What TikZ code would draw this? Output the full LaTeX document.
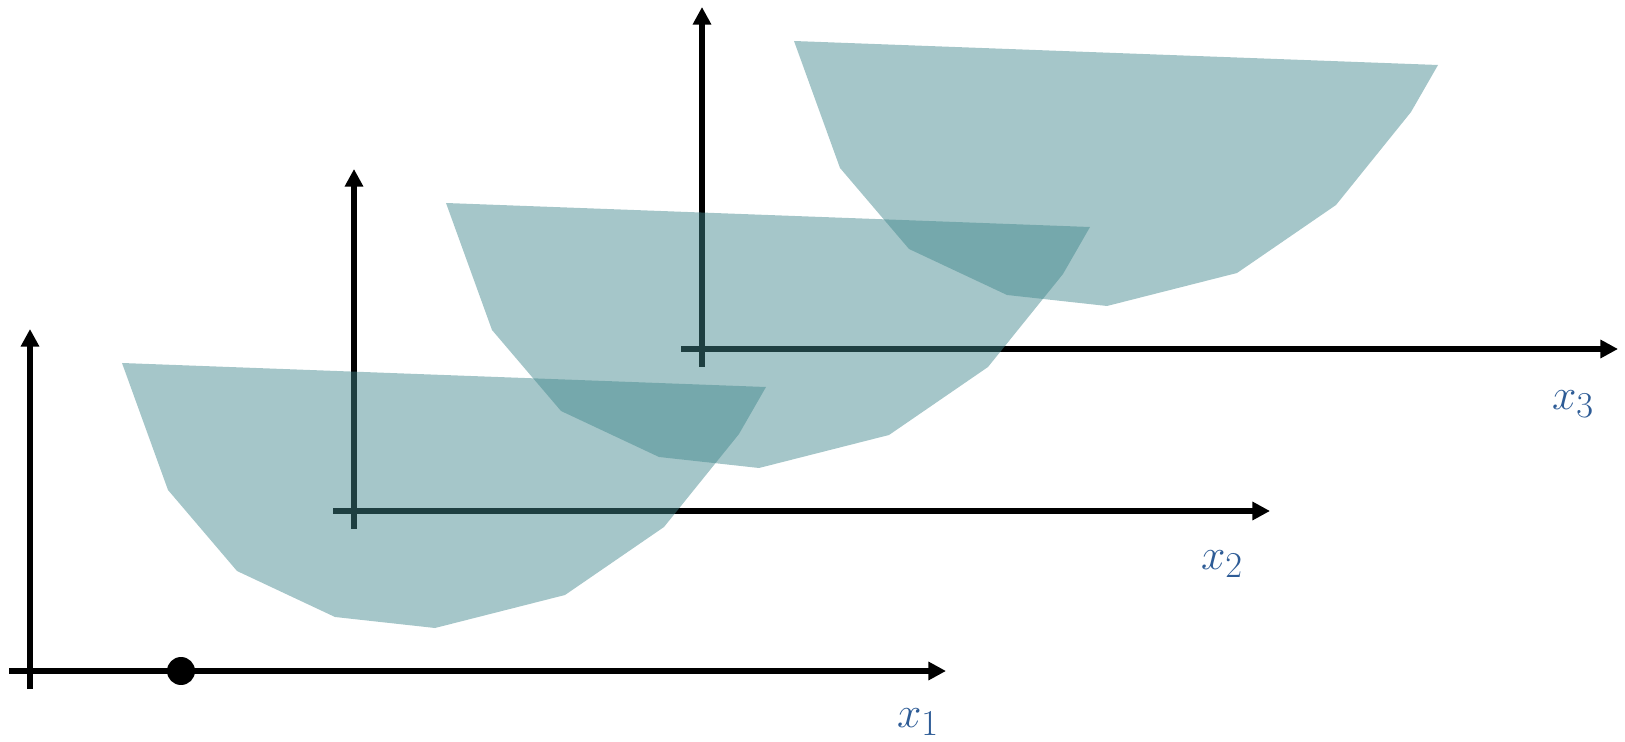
\documentclass[tikz,border=0pt]{standalone}
\usepackage{tikz}
\usetikzlibrary{arrows.meta}
\definecolor{regionfill}{RGB}{64,134,140}
\definecolor{labelblue}{RGB}{46,92,150}

\begin{document}
\begin{tikzpicture}[x=0.02cm, y=-0.02cm, >={Triangle[length=10pt,width=10pt]},
  axis/.style={line width=3pt, ->},
  region/.style={fill=regionfill, fill opacity=0.47},
  varlabel/.style={text=labelblue, font=\fontsize{29}{34}\selectfont, inner sep=0pt},
  dot/.style={circle, fill=black, inner sep=0pt, minimum size=0.56cm}]
  \useasboundingbox (0,0) rectangle (1625,742);
  \foreach \k/\dx/\dy in {1/0/0, 2/324/-160, 3/672/-322} {
    \begin{scope}[shift={(\dx,\dy)}]
      \coordinate (ybot\k)   at (30,689);
      \coordinate (ytop\k)   at (30,329);
      \coordinate (xleft\k)  at (9,671);
      \coordinate (xright\k) at (946,671);
    \end{scope}
    \draw[axis] (ybot\k) -- (ytop\k);
    \draw[axis] (xleft\k) -- (xright\k);
  }
  \node[dot] (pt) at (181,671) {};
  \foreach \dx/\dy in {0/0, 324/-160, 672/-322} {
    \begin{scope}[shift={(\dx,\dy)}]
      \fill[region] (122,363) -- (766,387) -- (739,434) -- (664,527) -- (565,595)
        -- (435,628) -- (335,617) -- (237,571) -- (168,490) -- cycle;
    \end{scope}
  }
  \node[varlabel] (lab1) at (918,722)  {$x_1$};
  \node[varlabel] (lab2) at (1222,564) {$x_2$};
  \node[varlabel] (lab3) at (1573,404) {$x_3$};
\end{tikzpicture}
\end{document}
